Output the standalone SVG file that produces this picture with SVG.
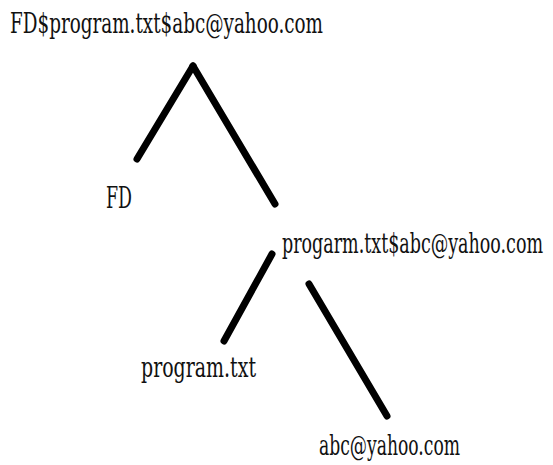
<svg xmlns="http://www.w3.org/2000/svg" width="553" height="465" viewBox="0 0 553 465">
<style>
text{font-family:"DejaVu Serif","Liberation Serif",serif;font-stretch:condensed;font-size:27px;fill:#111}
.e{stroke:#000;stroke-width:7;stroke-linecap:round;fill:none}
</style>
<rect width="553" height="465" fill="#fff"/>
<g id="connectors">
<line class="e" x1="193" y1="66" x2="137" y2="159"/>
<line class="e" x1="193" y1="66" x2="275" y2="204"/>
<line class="e" x1="272" y1="254" x2="224" y2="341"/>
<line class="e" x1="309" y1="284" x2="387" y2="416"/>
</g>
<g id="root"><text x="10" y="33" textLength="313" lengthAdjust="spacingAndGlyphs">FD$program.txt$abc@yahoo.com</text></g>
<g id="fd"><text x="106" y="208" textLength="26" lengthAdjust="spacingAndGlyphs" style="font-size:30px">FD</text></g>
<g id="rest"><text x="282" y="253" textLength="261" lengthAdjust="spacingAndGlyphs">progarm.txt$abc@yahoo.com</text></g>
<g id="program"><text x="141" y="377" textLength="115" lengthAdjust="spacingAndGlyphs">program.txt</text></g>
<g id="email"><text x="319" y="455" textLength="141" lengthAdjust="spacingAndGlyphs">abc@yahoo.com</text></g>
</svg>
